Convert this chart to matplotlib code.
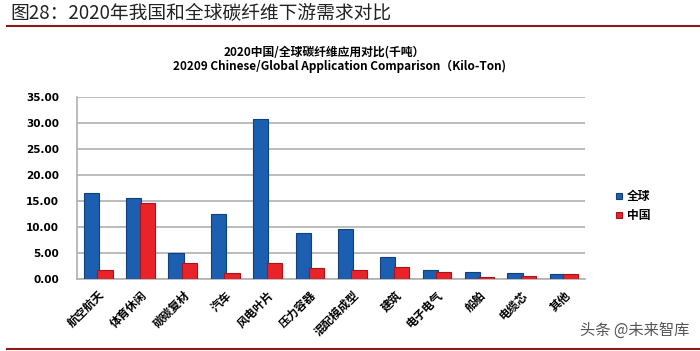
import numpy as np
import matplotlib.pyplot as plt

plt.rcParams['font.family'] = ['Noto Sans CJK SC', 'DejaVu Sans']

categories = ['航空航天', '体育休闲', '碳碳复材', '汽车', '风电叶片', '压力容器',
              '混配模成型', '建筑', '电子电气', '船舶', '电缆芯', '其他']
global_vals = [16.5, 15.5, 5.0, 12.5, 30.7, 8.8, 9.6, 4.2, 1.7, 1.4, 1.1, 0.9]
china_vals = [1.8, 14.7, 3.1, 1.2, 3.1, 2.2, 1.8, 2.4, 1.4, 0.3, 0.5, 0.9]
yticks = [0, 5, 10, 15, 20, 25, 30, 35]

blue = '#1c5eb0'
red = '#e8232a'

fig = plt.figure(figsize=(7, 3.51), dpi=100)

# page title and rules
fig.text(0.015, 0.962, '图28：2020年我国和全球碳纤维下游需求对比', fontsize=13.5,
         va='center', ha='left', color='#222222')
fig.add_artist(plt.Line2D([0.01, 1.0], [0.925, 0.925], color='#8b1a1a', lw=1.5))
fig.add_artist(plt.Line2D([0.01, 1.0], [0.006, 0.006], color='#8b1a1a', lw=1.5))

# chart titles
fig.text(0.463, 0.852, '2020中国/全球碳纤维应用对比(千吨）', fontsize=8.5,
         fontweight='bold', ha='center', va='center')
fig.text(0.485, 0.812, '20209 Chinese/Global Application Comparison（Kilo-Ton)',
         fontsize=8.5, fontweight='bold', ha='center', va='center')

ax = fig.add_axes([0.11, 0.205, 0.726, 0.519])
x = np.arange(len(categories))
w = 0.36
ax.bar(x - 0.16, global_vals, w, color=blue, edgecolor='#10407e',
       linewidth=0.8, zorder=3, label='全球')
ax.bar(x + 0.16, china_vals, w, color=red, edgecolor='#a81418',
       linewidth=0.8, zorder=4, label='中国')

ax.set_ylim(0, 35)
ax.set_xlim(-0.5, len(categories) - 0.5)
ax.set_yticks(yticks)
ax.set_yticklabels(['%.2f' % v for v in yticks], fontsize=7.5, fontweight='bold',
                   family='DejaVu Sans')
ax.yaxis.grid(True, color='#b0b0b0', lw=1.2, zorder=0)
ax.set_axisbelow(True)
ax.tick_params(axis='both', length=0)
ax.tick_params(axis='y', pad=13)
ax.tick_params(axis='x', pad=7)
ax.set_xticks(x)
ax.set_xticklabels(categories, rotation=45, ha='right', rotation_mode='anchor',
                   fontsize=8.3, fontweight='bold')
for s in ['top', 'right']:
    ax.spines[s].set_visible(False)
ax.spines['left'].set_color('#b0b0b0')
ax.spines['bottom'].set_color('#b0b0b0')
ax.spines['left'].set_linewidth(1.2)
ax.spines['bottom'].set_linewidth(1.2)

ax.legend(loc='center left', bbox_to_anchor=(1.04, 0.4), frameon=False,
          handlelength=0.5, handleheight=0.5, handletextpad=0.4,
          labelspacing=0.5, prop={'weight': 'bold', 'size': 8.5})

# watermark
fig.text(0.985, 0.06, '头条 @未来智库', fontsize=11, ha='right', va='center',
         color='#555555')

fig.savefig('out.png', dpi=100)
